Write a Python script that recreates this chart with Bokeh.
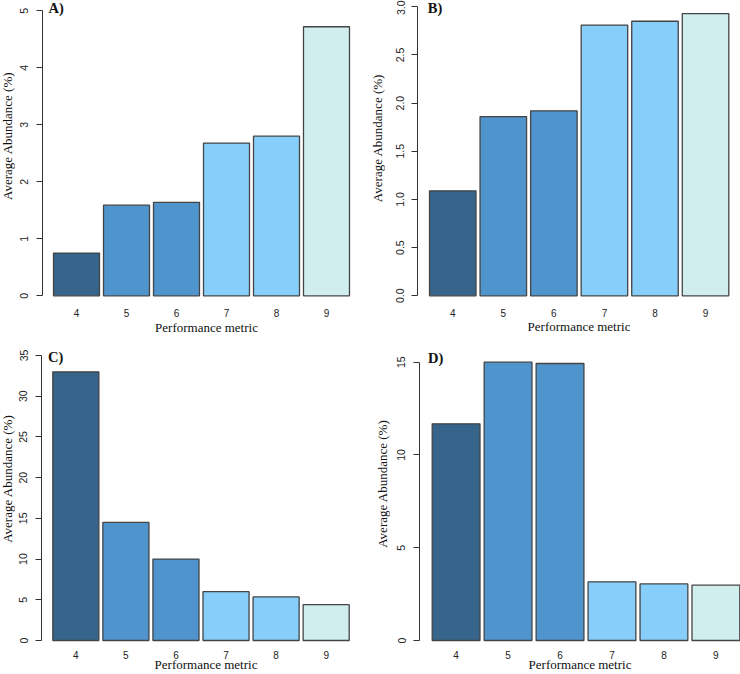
import math
from bokeh.plotting import figure
from bokeh.layouts import row, column
from bokeh.models import Range1d, FixedTicker, Label
from bokeh.core.properties import value
from bokeh.embed import file_html
from bokeh.resources import INLINE

# ---------------- data ----------------
categories = ["4", "5", "6", "7", "8", "9"]
values_A = [0.75, 1.59, 1.64, 2.68, 2.80, 4.72]
values_B = [1.09, 1.86, 1.92, 2.81, 2.85, 2.93]
values_C = [33.0, 14.5, 10.0, 6.0, 5.35, 4.4]
values_D = [11.68, 15.0, 14.93, 3.16, 3.05, 2.98]
bar_colors = ["#36648B", "#4F94CD", "#4F94CD", "#87CEFA", "#87CEFA", "#D1EEEE"]

ticks_A = [0, 1, 2, 3, 4, 5]
tick_labels_A = ["0", "1", "2", "3", "4", "5"]
ticks_B = [0.0, 0.5, 1.0, 1.5, 2.0, 2.5, 3.0]
tick_labels_B = ["0.0", "0.5", "1.0", "1.5", "2.0", "2.5", "3.0"]
ticks_C = [0, 5, 10, 15, 20, 25, 30, 35]
tick_labels_C = ["0", "5", "10", "15", "20", "25", "30", "35"]
ticks_D = [0, 5, 10, 15]
tick_labels_D = ["0", "5", "10", "15"]

panel_labels = ["A)", "B)", "C)", "D)"]
x_title = "Performance metric"
y_title = "Average Abundance (%)"

# ---------------- layout geometry (reference pixels, per cell) ----------------
CELL_W, CELL_H = 370, 337
BAR_W = 0.92

# axis_x: y-axis position; L/R: outer bar edges; zero/top: y of 0 and of top tick;
# ldx/ldy: panel letter offset from frame corner; ys/xs/xts: standoffs;
# pad: frame space under zero; xlh: x-title line height;
# ytw: width of y-title strip; ytx/yty: y-title centre (cell px)
geom = [
    dict(axis_x=42.0, L=53.0, R=349.0, zero=295.3, top=10.3, ldx=6.0, ldy=7.5,
         ys=8, xs=3, xts=0, pad=4, xlh=1.2, ytw=15, ytx=6.5, yty=152.5),
    dict(axis_x=46.7, L=59.0, R=358.3, zero=295.3, top=6.3, ldx=10.3, ldy=7.0,
         ys=7, xs=3, xts=-1, pad=4, xlh=1.2, ytw=15, ytx=6.5, yty=155.0),
    dict(axis_x=41.0, L=52.3, R=348.7, zero=303.0, top=18.0, ldx=6.5, ldy=19.7,
         ys=8, xs=1, xts=-5, pad=3, xlh=1.0, ytw=15, ytx=7.0, yty=155.5),
    dict(axis_x=49.3, L=61.7, R=369.3, zero=303.0, top=24.7, ldx=8.5, ldy=20.3,
         ys=8, xs=1, xts=-5, pad=3, xlh=1.0, ytw=20, ytx=12.0, yty=161.0),
]

panels = [
    (values_A, ticks_A, tick_labels_A),
    (values_B, ticks_B, tick_labels_B),
    (values_C, ticks_C, tick_labels_C),
    (values_D, ticks_D, tick_labels_D),
]

SERIF = "Liberation Serif"
SANS = "Liberation Sans"


def strip(w, h):
    s = figure(width=w, height=h, output_backend="svg", toolbar_location=None,
               x_range=Range1d(0, w), y_range=Range1d(h, 0),
               x_axis_type=None, y_axis_type=None,
               min_border_left=0, min_border_right=0, min_border_top=0, min_border_bottom=0)
    s.outline_line_color = None
    s.grid.grid_line_color = None
    s.background_fill_color = "white"
    s.border_fill_color = "white"
    return s


def make_cell(vals, yticks, ylabels, plabel, g):
    n = len(categories)
    xs = [i + 1 for i in range(n)]
    ytw = g["ytw"]

    left_d = 1 - BAR_W / 2
    right_d = n + BAR_W / 2
    ppu_x = (g["R"] - g["L"]) / (right_d - left_d)
    border_left = round(g["axis_x"] - ytw)
    frame_left = ytw + border_left
    x_start = left_d - (g["L"] - frame_left) / ppu_x
    x_end = x_start + (CELL_W - frame_left) / ppu_x

    ppu_y = (g["zero"] - g["top"]) / yticks[-1]
    border_bottom = round(CELL_H - (g["zero"] + g["pad"]))
    frame_bottom = CELL_H - border_bottom
    y_end = g["zero"] / ppu_y
    y_start = -(frame_bottom - g["zero"]) / ppu_y

    p = figure(width=CELL_W - ytw, height=CELL_H, output_backend="svg", toolbar_location=None,
               x_range=Range1d(x_start, x_end), y_range=Range1d(y_start, y_end),
               min_border_left=border_left, min_border_right=0, min_border_top=0,
               min_border_bottom=border_bottom)
    p.outline_line_color = None
    p.grid.grid_line_color = None
    p.background_fill_color = "white"
    p.border_fill_color = "white"

    p.vbar(x=xs, top=vals, bottom=0, width=BAR_W, fill_color=bar_colors,
           line_color="#444444", line_width=1.3)

    # x axis: category labels and title
    xa = p.xaxis[0]
    xa.ticker = FixedTicker(ticks=xs)
    xa.major_label_overrides = {x: c for x, c in zip(xs, categories)}
    xa.axis_line_color = None
    xa.major_tick_line_color = None
    xa.minor_tick_line_color = None
    xa.major_label_standoff = g["xs"]
    xa.major_label_text_font = SANS
    xa.major_label_text_font_size = "10px"
    xa.major_label_text_color = "#222222"
    xa.axis_label = x_title
    xa.axis_label_text_font = SERIF
    xa.axis_label_text_font_style = "normal"
    xa.axis_label_text_font_size = "13px"
    xa.axis_label_text_color = "#111111"
    xa.axis_label_text_line_height = g["xlh"]
    xa.axis_label_standoff = g["xts"]

    # y axis
    ya = p.yaxis[0]
    ya.ticker = FixedTicker(ticks=yticks)
    ya.major_label_overrides = {t: s for t, s in zip(yticks, ylabels)}
    ya.bounds = (yticks[0], yticks[-1])
    ya.axis_line_color = "#333333"
    ya.axis_line_width = 1
    ya.major_tick_line_color = "#333333"
    ya.major_tick_out = 6
    ya.major_tick_in = 0
    ya.minor_tick_line_color = None
    ya.major_label_orientation = "vertical"
    ya.major_label_standoff = g["ys"]
    ya.major_label_text_font = SANS
    ya.major_label_text_font_size = "10.5px"
    ya.major_label_text_color = "#222222"

    # panel letter
    p.add_layout(Label(x=x_start, y=y_end, x_offset=g["ldx"], y_offset=-g["ldy"],
                       text=plabel, text_baseline="middle", text_align="left",
                       text_font=SERIF, text_font_style="bold", text_font_size="14.5px",
                       text_color="#111111"))

    # y title strip
    yt = strip(ytw, CELL_H)
    yt.text(x=[g["ytx"]], y=[g["yty"]], text=[y_title], angle=math.pi / 2,
            text_align="center", text_baseline="middle",
            text_font=value(SERIF), text_font_size="13px", text_color="#111111")

    return row(yt, p, spacing=0)


cells = [make_cell(v, t, tl, pl, g) for (v, t, tl), pl, g in zip(panels, panel_labels, geom)]
layout = column(row(cells[0], cells[1], spacing=0), row(cells[2], cells[3], spacing=0), spacing=0)

open("out.html", "w").write(file_html(layout, INLINE))
